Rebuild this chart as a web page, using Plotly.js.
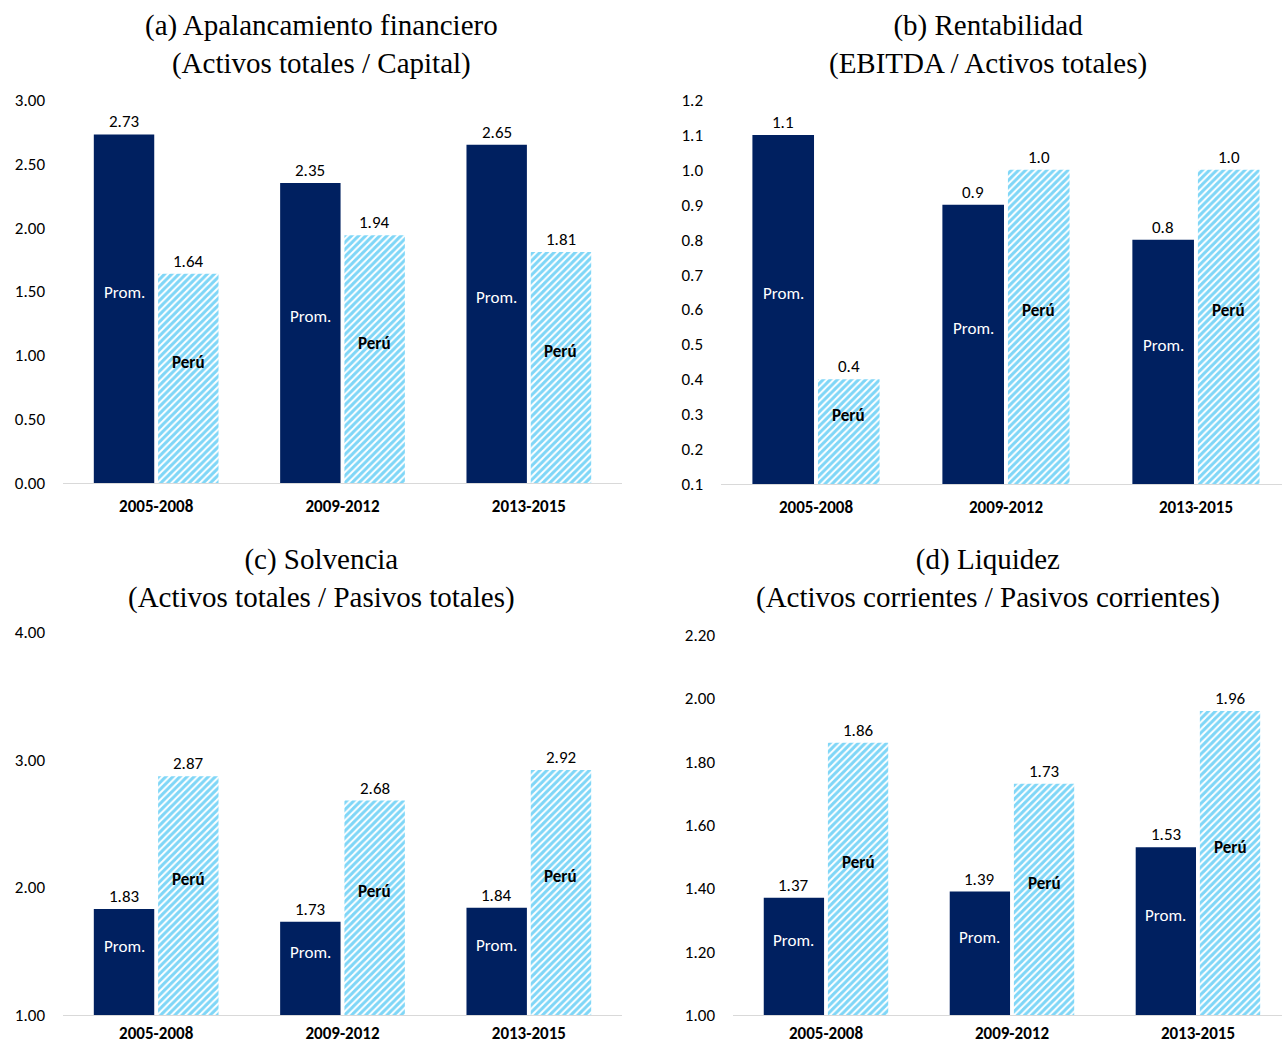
<!DOCTYPE html>
<html><head><meta charset="utf-8">
<script src="https://cdn.plot.ly/plotly-3.0.1.min.js"></script>
<style>html,body{margin:0;padding:0;background:#fff}#chart{width:1282px;height:1046px}</style>
</head><body><div id="chart"></div>
<script>
const periods = ["2005-2008", "2009-2012", "2013-2015"];

const apalProm = [2.73, 2.35, 2.65];
const apalPeru = [1.64, 1.94, 1.81];
const rentProm = [1.1, 0.9, 0.8];
const rentPeru = [0.4, 1.0, 1.0];
const solvProm = [1.83, 1.73, 1.84];
const solvPeru = [2.87, 2.68, 2.92];
const liqProm = [1.37, 1.39, 1.53];
const liqPeru = [1.86, 1.73, 1.96];

const seriesLabels = ["Prom.", "<b>Perú</b>"];

const titles = [
  "(a) Apalancamiento financiero<br>(Activos totales / Capital)",
  "(b) Rentabilidad<br>(EBITDA / Activos totales)",
  "(c) Solvencia<br>(Activos totales / Pasivos totales)",
  "(d) Liquidez<br>(Activos corrientes / Pasivos corrientes)"
];

const W = 1282, H = 1046;
const NAVY = "#002060", SKY = "#00AEEF";
const FONT = "Carlito, Lato, 'Open Sans', sans-serif";
const FS = 17;
const BARGAP = 0.31;

const panels = [
  {prom: apalProm, peru: apalPeru, dec: 2, x0: 63, x1: 622, xr: [-0.5, 2.5], yt: 100, yb: 483, yr: [0, 3], dt: 0.5, so: 8},
  {prom: rentProm, peru: rentPeru, dec: 1, x0: 721, x1: 1282, xr: [-0.5, 2.453], yt: 100, yb: 484, yr: [0.1, 1.2], dt: 0.1, so: 8},
  {prom: solvProm, peru: solvPeru, dec: 2, x0: 63, x1: 622, xr: [-0.5, 2.5], yt: 632, yb: 1015, yr: [1, 4], dt: 1, so: 3},
  {prom: liqProm, peru: liqPeru, dec: 2, x0: 733, x1: 1282, xr: [-0.5, 2.452], yt: 635, yb: 1015, yr: [1, 2.2], dt: 0.2, so: 3}
];

const data = [];
const layout = {
  width: W, height: H,
  margin: {l: 0, r: 0, t: 0, b: 0},
  paper_bgcolor: "#fff", plot_bgcolor: "#fff",
  showlegend: false,
  barmode: "group", bargap: BARGAP, bargroupgap: 0.06,
  font: {family: FONT, size: FS, color: "#000"},
  annotations: []
};

const titleX = [321, 988, 321, 988];
const titleY = [45, 45, 578, 578];

panels.forEach((p, i) => {
  const n = i === 0 ? "" : String(i + 1);
  const xa = "x" + n, ya = "y" + n;
  data.push({
    type: "bar", x: periods, y: p.prom, xaxis: xa, yaxis: ya,
    marker: {color: NAVY, line: {width: 0}},
    hoverinfo: "skip"
  });
  data.push({
    type: "bar", x: periods, y: p.peru, xaxis: xa, yaxis: ya,
    marker: {color: "#fff", line: {width: 0},
      pattern: {shape: "/", fgcolor: SKY, bgcolor: "#fff", size: 5, solidity: 0.6, fillmode: "overlay"}},
    hoverinfo: "skip"
  });
  const ax = "xaxis" + n, ay = "yaxis" + n;
  layout[ax] = {
    domain: [p.x0 / W, p.x1 / W], range: p.xr, type: "category",
    showline: true, linecolor: "#d9d9d9", linewidth: 1, showgrid: false,
    ticks: "", tickfont: {family: FONT, size: FS, color: "#000", weight: "bold"},
    ticklabelstandoff: p.so, anchor: ya, fixedrange: true
  };
  layout[ay] = {
    domain: [1 - p.yb / H, 1 - p.yt / H], range: p.yr, dtick: p.dt, tick0: 0,
    tickformat: "." + p.dec + "f", showline: false, showgrid: false, zeroline: false,
    ticks: "", tickfont: {family: FONT, size: FS, color: "#000"},
    ticklabelstandoff: 17, anchor: xa, fixedrange: true
  };
  const slot = (p.x1 - p.x0) / (p.xr[1] - p.xr[0]);
  const off = slot * (1 - BARGAP) / 4;
  periods.forEach((c, k) => {
    [[p.prom[k], -1, 0], [p.peru[k], 1, 1]].forEach(([v, side, s]) => {
      layout.annotations.push({
        xref: xa, yref: ya, x: c, y: v, text: v.toFixed(p.dec),
        showarrow: false, yanchor: "bottom", xshift: side * off, yshift: 0,
        font: {family: FONT, size: FS, color: "#000"}
      });
      layout.annotations.push({
        xref: xa, yref: ya, x: c, y: (v + p.yr[0]) / 2, text: seriesLabels[s],
        showarrow: false, yanchor: "middle", xshift: side * off, yshift: 16,
        font: {family: FONT, size: FS, color: s === 0 ? "#fff" : "#000"}
      });
    });
  });
  layout.annotations.push({
    xref: "paper", yref: "paper", x: titleX[i] / W, y: 1 - titleY[i] / H,
    xanchor: "center", yanchor: "middle", showarrow: false, text: titles[i],
    font: {family: "'Liberation Serif', 'Times New Roman', serif", size: 29, color: "#000"}
  });
});

Plotly.newPlot("chart", data, layout, {displayModeBar: false, staticPlot: true});
</script></body></html>
